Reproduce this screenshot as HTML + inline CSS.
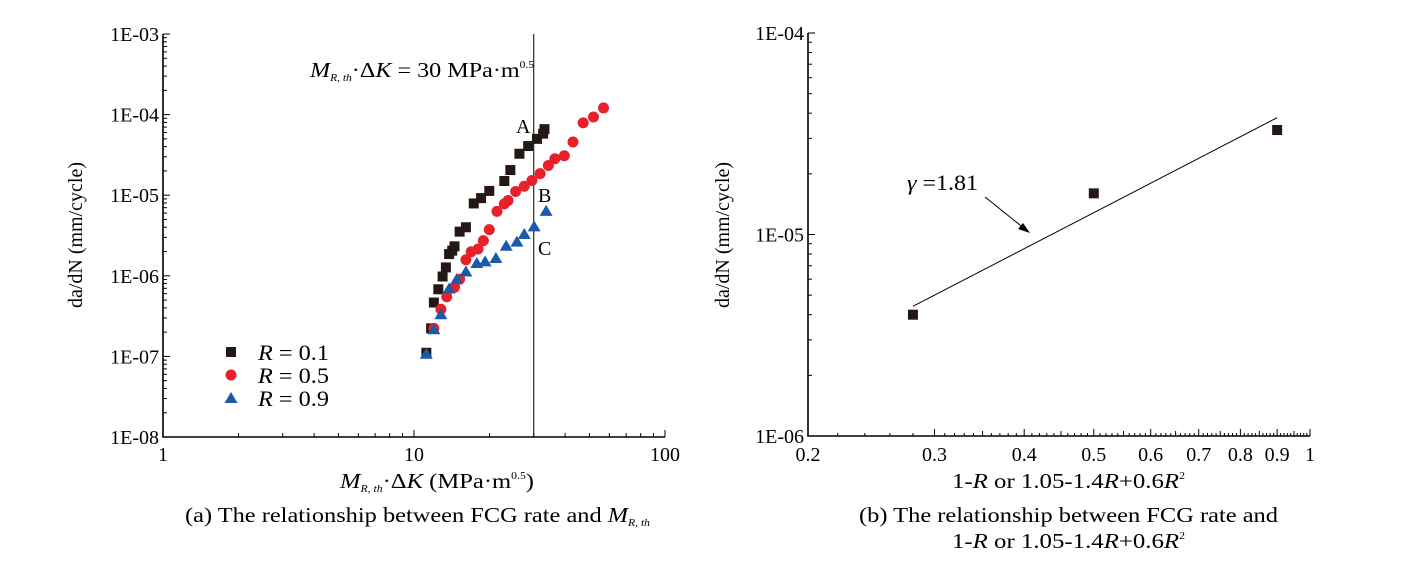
<!DOCTYPE html>
<html><head><meta charset="utf-8"><style>
body{margin:0;background:#fff}
svg{display:block;font-family:"Liberation Serif",serif}
</style></head><body>
<svg id="s" width="1412" height="563" viewBox="0 0 1412 563"></svg>
<script>
// Chart (a) data
const r01X=[11.2,11.7,12.0,12.5,13.0,13.4,13.8,14.2,14.5,15.2,16.1,17.3,18.5,19.95,22.9,24.2,26.3,28.5,30.9,32.7,33.1];
const r01Y=[1.11e-7,2.23e-7,4.66e-7,6.8e-7,9.8e-7,1.27e-6,1.86e-6,2.05e-6,2.32e-6,3.53e-6,4.0e-6,7.9e-6,9.2e-6,1.13e-5,1.5e-5,2.05e-5,3.27e-5,4.07e-5,5.0e-5,5.8e-5,6.6e-5];
const r05X=[12.0,12.8,13.5,14.5,15.2,16.1,16.9,18.0,18.9,19.95,21.4,22.9,23.7,25.4,27.5,29.5,31.8,34.3,36.4,39.7,43.0,47.2,51.9,56.9];
const r05Y=[2.23e-7,3.85e-7,5.5e-7,7.2e-7,9.1e-7,1.58e-6,1.99e-6,2.15e-6,2.73e-6,3.74e-6,6.3e-6,7.8e-6,8.6e-6,1.11e-5,1.29e-5,1.52e-5,1.85e-5,2.34e-5,2.83e-5,3.09e-5,4.57e-5,7.9e-5,9.35e-5,1.21e-4];
const r09X=[11.2,12.0,12.8,13.8,14.8,16.1,17.8,19.2,21.2,23.3,25.7,27.5,30.1,33.6];
const r09Y=[1.08e-7,2.17e-7,3.33e-7,6.95e-7,9.1e-7,1.13e-6,1.44e-6,1.51e-6,1.66e-6,2.36e-6,2.65e-6,3.3e-6,4.1e-6,6.4e-6];
const yTicksA=["1E-08","1E-07","1E-06","1E-05","1E-04","1E-03"];
const xTicksA=["1","10","100"];
// Chart (b) data
const bX=[0.28,0.5,0.9];
const bY=[4.0e-6,1.6e-5,3.3e-5];
const fitX=[0.28,0.9];
const fitY=[4.4e-6,3.8e-5];
const yTicksB=["1E-06","1E-05","1E-04"];
const xTicksB=["0.2","0.3","0.4","0.5","0.6","0.7","0.8","0.9","1"];

const S=document.getElementById('s');
const NS='http://www.w3.org/2000/svg';
function el(tag,attrs,parent){const e=document.createElementNS(NS,tag);for(const k in attrs)e.setAttribute(k,attrs[k]);(parent||S).appendChild(e);return e;}
const L=Math.log10;
const ax={x0:163,x1:665,y0:437,y1:34};
const xa=v=>ax.x0+(L(v)-0)/2*(ax.x1-ax.x0);
const ya=v=>ax.y0-(L(v)+8)/5*(ax.y0-ax.y1);
const bx={x0:808,x1:1310,y0:436,y1:33};
const xb=v=>bx.x0+(L(v)-L(0.2))/(0-L(0.2))*(bx.x1-bx.x0);
const yb=v=>bx.y0-(L(v)+6)/2*(bx.y0-bx.y1);

function axesFrame(a,name){
  const g=el('g',{});
  
  
  el('path',{d:`M${a.x0},${a.y1}V${a.y0}H${a.x1}`,stroke:'#000','stroke-width':1.6,fill:'none'},g);
  return g;
}
// ---- Chart A
const gA=axesFrame(ax,'axes-a');
for(let d=-8;d<-3;d++)for(let m=1;m<10;m++){const y=ya(m*Math.pow(10,d));el('line',{x1:ax.x0,x2:ax.x0+(m==1?7:4),y1:y,y2:y,stroke:'#000','stroke-width':1},gA);}
el('line',{x1:ax.x0,x2:ax.x0+7,y1:ax.y1,y2:ax.y1,stroke:'#000'},gA);
for(let d=0;d<2;d++)for(let m=1;m<10;m++){const x=xa(m*Math.pow(10,d));el('line',{x1:x,x2:x,y1:ax.y0,y2:ax.y0-(m==1?7:4),stroke:'#000','stroke-width':1},gA);}
el('line',{x1:ax.x1,x2:ax.x1,y1:ax.y0,y2:ax.y0-7,stroke:'#000'},gA);
yTicksA.forEach((t,i)=>{const e=el('text',{x:ax.x0-4,y:ya(Math.pow(10,-8+i))+7,'font-size':20,'text-anchor':'end'});e.textContent=t;

});
xTicksA.forEach((t,i)=>{const e=el('text',{x:xa(Math.pow(10,i)),y:461,'font-size':20,'text-anchor':'middle'});e.textContent=t;

});
const vl=el('line',{x1:xa(30),x2:xa(30),y1:ax.y1,y2:ax.y0,stroke:'#000','stroke-width':1});


function sq(x,y,c){return el('rect',{x:x-5,y:y-5,width:10,height:10,fill:c});}
function ci(x,y,c){return el('circle',{cx:x,cy:y,r:5.5,fill:c});}
function tr(x,y,c){return el('path',{d:`M${x},${y-6}L${x+6.5},${y+5}L${x-6.5},${y+5}Z`,fill:c});}
r01X.forEach((v,i)=>{const m=sq(xa(v),ya(r01Y[i]),'#231815');

});
r05X.forEach((v,i)=>{const m=ci(xa(v),ya(r05Y[i]),'#e8202a');

});
r09X.forEach((v,i)=>{const m=tr(xa(v),ya(r09Y[i]),'#1c5aa8');

});
const lg=el('g',{});


sq(231,352,'#231815');ci(231,375,'#e8202a');tr(231,398,'#1c5aa8');
[['0.1',352],['0.5',375],['0.9',398]].forEach(([v,y])=>{const t=el('text',{x:258,y:y+8,'font-size':22,textLength:71,lengthAdjust:'spacingAndGlyphs'},lg);t.innerHTML='<tspan font-style="italic">R</tspan> = '+v;});
const an=el('text',{x:310,y:77,'font-size':21,textLength:224,lengthAdjust:'spacingAndGlyphs'});
an.innerHTML='<tspan font-style="italic">M</tspan><tspan font-style="italic" font-size="10" dy="4">R, th</tspan><tspan dy="-4">·Δ</tspan><tspan font-style="italic">K</tspan> = 30 MPa·m<tspan font-size="10" dy="-9">0.5</tspan>';


[['A',516,133],['B',538,202],['C',538,255]].forEach(([t,x,y])=>{const e=el('text',{x:x,y:y,'font-size':20});e.textContent=t;

});
const xtA=el('text',{x:340,y:488,'font-size':21,textLength:194,lengthAdjust:'spacingAndGlyphs'});
xtA.innerHTML='<tspan font-style="italic">M</tspan><tspan font-style="italic" font-size="10" dy="4">R, th</tspan><tspan dy="-4">·Δ</tspan><tspan font-style="italic">K</tspan> (MPa·m<tspan font-size="10" dy="-9">0.5</tspan><tspan dy="9">)</tspan>';


const ytA=el('text',{x:0,y:0,'font-size':20,'text-anchor':'middle',transform:'translate(82,235) rotate(-90)'});
ytA.textContent='da/dN (mm/cycle)';


const capA=el('text',{x:185,y:522,'font-size':21,textLength:465,lengthAdjust:'spacingAndGlyphs'});
capA.innerHTML='(a) The relationship between FCG rate and <tspan font-style="italic">M</tspan><tspan font-style="italic" font-size="10" dy="4">R, th</tspan>';



// ---- Chart B
const gB=axesFrame(bx,'axes-b');
for(let d=-6;d<-4;d++)for(let m=1;m<10;m++){const y=yb(m*Math.pow(10,d));el('line',{x1:bx.x0,x2:bx.x0+(m==1?7:4),y1:y,y2:y,stroke:'#000'},gB);}
el('line',{x1:bx.x0,x2:bx.x0+7,y1:bx.y1,y2:bx.y1,stroke:'#000'},gB);
for(let k=20;k<=100;k++){const x=xb(k/100);const major=k%10==0;const mid=k%5==0;
 if(k>=30||k%2==0)el('line',{x1:x,x2:x,y1:bx.y0,y2:bx.y0-(major?7:(mid?5:3)),stroke:'#000'},gB);}
yTicksB.forEach((t,i)=>{const e=el('text',{x:bx.x0-4,y:yb(Math.pow(10,-6+i))+7,'font-size':20,'text-anchor':'end'});e.textContent=t;

});
xTicksB.forEach(t=>{const e=el('text',{x:xb(parseFloat(t)),y:461,'font-size':20,'text-anchor':'middle'});e.textContent=t;

});
const fl=el('line',{x1:xb(fitX[0]),y1:yb(fitY[0]),x2:xb(fitX[1]),y2:yb(fitY[1]),stroke:'#000','stroke-width':1});


bX.forEach((v,i)=>{const m=sq(xb(v),yb(bY[i]),'#231815');

});
const ar=el('g',{});


el('line',{x1:985,y1:197,x2:1025,y2:229,stroke:'#000','stroke-width':1},ar);
el('path',{d:'M1030,233L1018,229L1023,223Z',fill:'#000'},ar);
const gm=el('text',{x:907,y:190,'font-size':22,textLength:71,lengthAdjust:'spacingAndGlyphs'});
gm.innerHTML='<tspan font-style="italic">γ</tspan> =1.81';


const xtB=el('text',{x:952,y:488,'font-size':21,textLength:233,lengthAdjust:'spacingAndGlyphs'});
xtB.innerHTML='1-<tspan font-style="italic">R</tspan> or 1.05-1.4<tspan font-style="italic">R</tspan>+0.6<tspan font-style="italic">R</tspan><tspan font-size="10" dy="-9">2</tspan>';


const ytB=el('text',{x:0,y:0,'font-size':20,'text-anchor':'middle',transform:'translate(729,235) rotate(-90)'});
ytB.textContent='da/dN (mm/cycle)';


const capB1=el('text',{x:859,y:522,'font-size':21,textLength:419,lengthAdjust:'spacingAndGlyphs'});
capB1.textContent='(b) The relationship between FCG rate and';


const capB2=el('text',{x:952,y:548,'font-size':21,textLength:233,lengthAdjust:'spacingAndGlyphs'});
capB2.innerHTML='1-<tspan font-style="italic">R</tspan> or 1.05-1.4<tspan font-style="italic">R</tspan>+0.6<tspan font-style="italic">R</tspan><tspan font-size="10" dy="-9">2</tspan>';


</script>
</body></html>
